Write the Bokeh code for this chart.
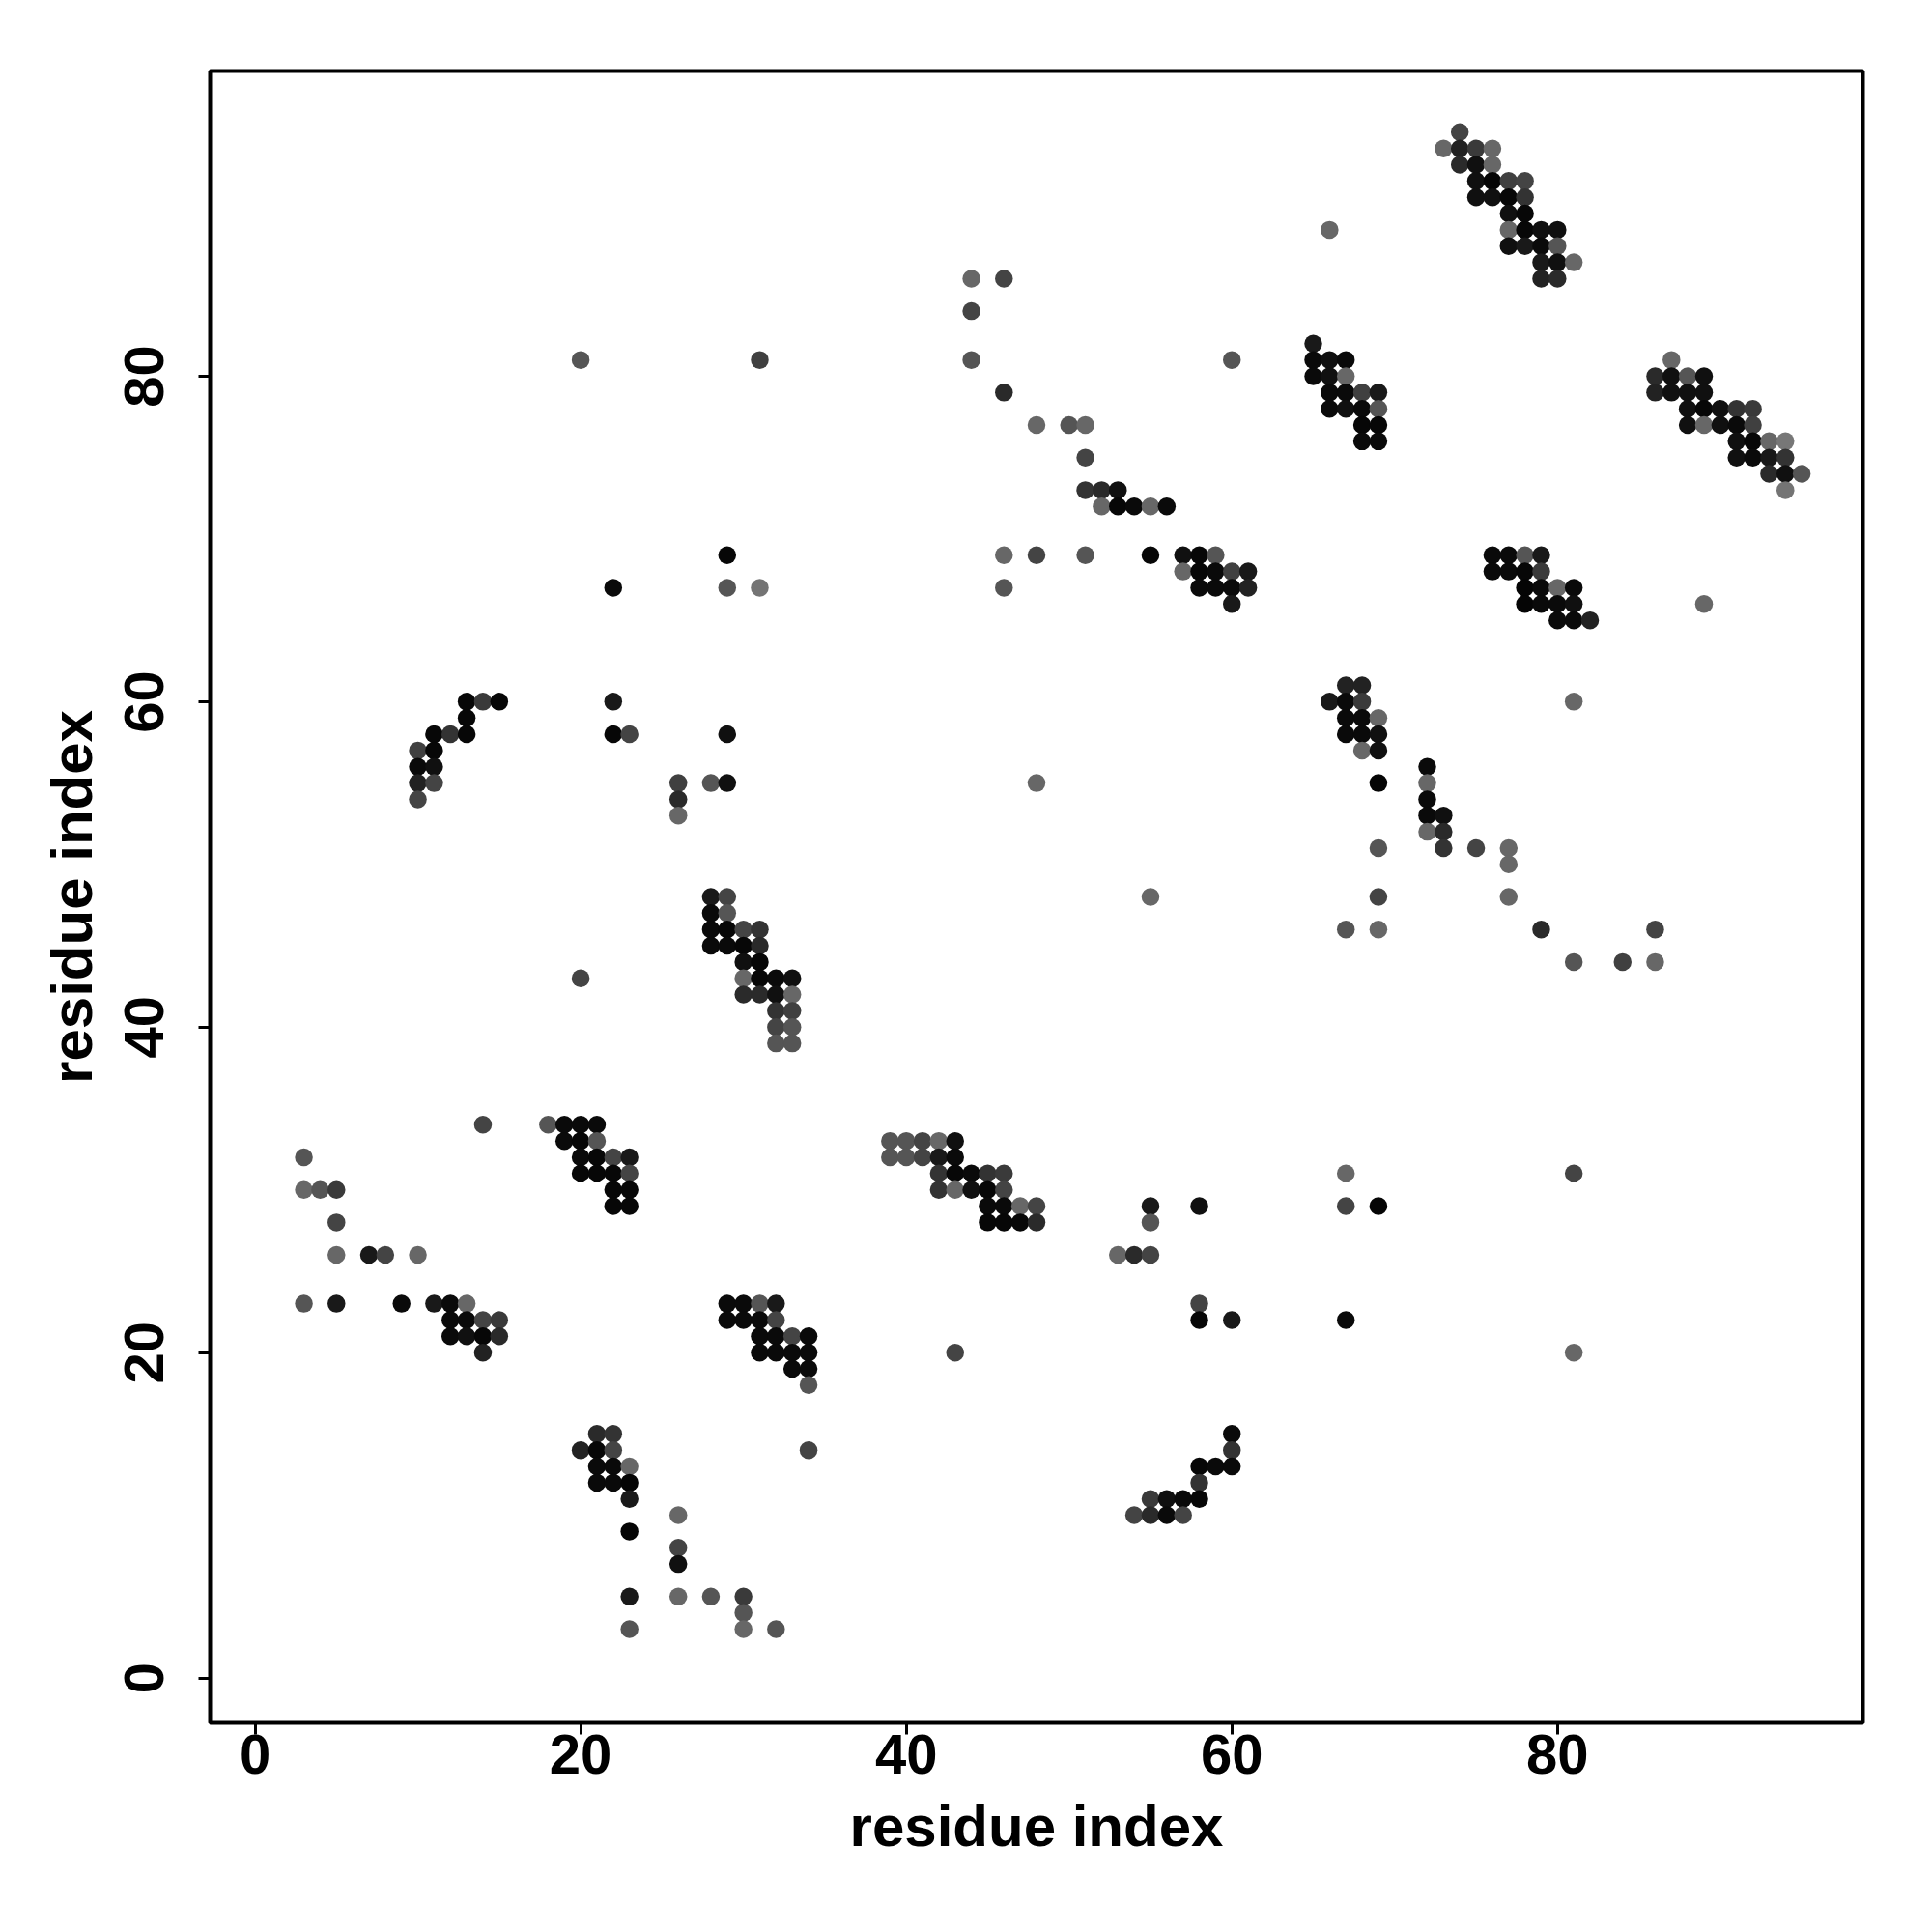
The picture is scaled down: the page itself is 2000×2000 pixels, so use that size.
from bokeh.plotting import figure
from bokeh.models import Range1d, FixedTicker, LinearColorMapper, ColumnDataSource
from bokeh.embed import file_html
from bokeh.resources import INLINE

# residue i (x), residue j (y), contact score (shade)
res_i = [
    74, 73, 74, 75, 76, 74, 75, 76, 75, 76, 77, 78, 75, 76, 77, 78, 77, 78,
    77, 78, 79, 80, 77, 78, 79, 80, 79, 80, 81, 79, 80, 66,
    65, 65, 66, 67, 65, 66, 67, 66, 67, 68, 69, 66, 67, 68, 69, 68, 69, 68, 69,
    87, 86, 87, 88, 89, 86, 87, 88, 89, 88, 89, 90, 91, 92, 88, 89, 90, 91, 92,
    91, 92, 93, 94, 91, 92, 93, 94, 93, 94, 95, 94,
    76, 77, 78, 79, 76, 77, 78, 79, 78, 79, 80, 81, 78, 79, 80, 81, 80, 81, 82, 89,
    67, 68, 66, 67, 68, 67, 68, 69, 67, 68, 69, 68, 69, 69, 81,
    72, 72, 72, 72, 73, 72, 73, 69, 73, 75, 77, 77, 69, 77,
    67, 69, 79, 86, 81, 84, 86, 67, 81, 67, 69, 67, 81,
    20, 31, 60, 44, 46, 44, 44, 46, 48, 50, 51, 51, 51, 52, 53,
    52, 53, 54, 55, 56, 46, 48, 51, 55, 57, 58, 59, 57, 58, 59, 60, 61,
    46, 58, 59, 60, 61, 60, 48, 55,
    29, 22, 29, 31, 13, 14, 15, 13, 11, 12, 13, 10, 11, 10, 11, 10, 11, 10,
    22, 22, 23, 29, 26, 28, 29, 26, 26,
    28, 29, 28, 29, 28, 29, 30, 31, 28, 29, 30, 31, 30, 31, 30, 31, 32, 33,
    30, 31, 32, 33, 32, 33, 32, 33, 32, 33, 20,
    39, 40, 41, 42, 43, 39, 40, 41, 42, 43, 42, 43, 44, 45, 46, 42, 43, 44, 45, 46,
    45, 46, 47, 48, 45, 46, 47, 48, 55, 58, 55, 53, 54, 55, 58, 58, 60, 43,
    14, 18, 19, 20, 21, 19, 20, 21, 20, 21, 22, 23, 20, 21, 22, 23, 22, 23, 22, 23,
    3, 3, 4, 5, 5, 5, 7, 8, 10, 3, 5, 9, 11, 12, 13, 12, 13, 14, 15,
    12, 13, 14, 15, 14,
    29, 30, 31, 32, 29, 30, 31, 32, 31, 32, 33, 34, 31, 32, 33, 34, 33, 34, 34, 34,
    21, 22, 20, 21, 22, 21, 22, 23, 21, 22, 23, 23, 23, 26, 26, 26,
    23, 26, 28, 30, 30, 23, 30, 32,
    60, 60, 58, 59, 60, 58, 55, 56, 57, 58, 54, 55, 56, 57,
]
res_j = [
    95, 94, 94, 94, 94, 93, 93, 93, 92, 92, 92, 92, 91, 91, 91, 91, 90, 90,
    89, 89, 89, 89, 88, 88, 88, 88, 87, 87, 87, 86, 86, 89,
    82, 81, 81, 81, 80, 80, 80, 79, 79, 79, 79, 78, 78, 78, 78, 77, 77, 76, 76,
    81, 80, 80, 80, 80, 79, 79, 79, 79, 78, 78, 78, 78, 78, 77, 77, 77, 77, 77,
    76, 76, 76, 76, 75, 75, 75, 75, 74, 74, 74, 73,
    69, 69, 69, 69, 68, 68, 68, 68, 67, 67, 67, 67, 66, 66, 66, 66, 65, 65, 65, 66,
    61, 61, 60, 60, 60, 59, 59, 59, 58, 58, 58, 57, 57, 55, 60,
    56, 55, 54, 53, 53, 52, 52, 51, 51, 51, 51, 50, 48, 48,
    46, 46, 46, 46, 44, 44, 44, 31, 31, 29, 29, 22, 20,
    81, 81, 81, 86, 86, 84, 81, 79, 77, 77, 77, 75, 73, 73, 73,
    72, 72, 72, 72, 72, 69, 69, 69, 69, 69, 69, 69, 68, 68, 68, 68, 68,
    67, 67, 67, 67, 67, 66, 55, 48,
    69, 67, 67, 67, 60, 60, 60, 59, 58, 58, 58, 57, 57, 56, 56, 55, 55, 54,
    60, 58, 58, 58, 55, 55, 55, 54, 53,
    48, 48, 47, 47, 46, 46, 46, 46, 45, 45, 45, 45, 44, 44, 43, 43, 43, 43,
    42, 42, 42, 42, 41, 41, 40, 40, 39, 39, 43,
    33, 33, 33, 33, 33, 32, 32, 32, 32, 32, 31, 31, 31, 31, 31, 30, 30, 30, 30, 30,
    29, 29, 29, 29, 28, 28, 28, 28, 29, 29, 28, 26, 26, 26, 23, 22, 22, 20,
    34, 34, 34, 34, 34, 33, 33, 33, 32, 32, 32, 32, 31, 31, 31, 31, 30, 30, 29, 29,
    32, 30, 30, 30, 28, 26, 26, 26, 26, 23, 23, 23, 23, 23, 23, 22, 22, 22, 22,
    21, 21, 21, 21, 20,
    23, 23, 23, 23, 22, 22, 22, 22, 21, 21, 21, 21, 20, 20, 20, 20, 19, 19, 18, 14,
    15, 15, 14, 14, 14, 13, 13, 13, 12, 12, 12, 11, 9, 10, 8, 7,
    5, 5, 5, 5, 4, 3, 3, 3,
    15, 14, 13, 13, 13, 12, 11, 11, 11, 11, 10, 10, 10, 10,
]
score = [
    .47, .20, .73, .55, .20, .67, .87, .20, .87, .96, .50, .47, .87, .87, .94, .60, .87, .94,
    .20, .94, .87, .87, .87, .80, .92, .34, .80, .87, .20, .73, .67, .20,
    .80, .92, .87, .92, .92, .87, .20, .92, .92, .50, .80, .92, .87, .92, .34, .94, .94, .92, .92,
    .20, .67, .87, .34, .87, .73, .87, .87, .87, .87, .94, .87, .60, .55, .87, .20, .87, .92, .50,
    .87, .94, .20, .07, .87, .92, .80, .60, .67, .87, .34, .10,
    .92, .92, .34, .80, .92, .92, .94, .55, .96, .92, .20, .92, .96, .92, .92, .87, .92, .92, .73, .20,
    .73, .73, .80, .92, .55, .92, .92, .20, .92, .92, .87, .20, .87, .96, .20,
    .92, .20, .92, .92, .87, .20, .67, .34, .60, .47, .20, .20, .47, .20,
    .34, .20, .67, .47, .34, .50, .20, .20, .47, .47, .96, .92, .20,
    .34, .50, .34, .20, .47, .47, .34, .67, .20, .34, .20, .47, .60, .67, .87,
    .20, .94, .92, .20, .92, .20, .47, .34, .94, .87, .94, .34, .20, .94, .92, .50, .80,
    .34, .92, .92, .92, .73, .80, .20, .20,
    .94, .92, .34, .10, .94, .55, .94, .94, .94, .60, .94, .50, .94, .92, .87, .73, .47, .47,
    .80, .94, .47, .87, .50, .34, .87, .67, .20,
    .80, .47, .92, .34, .92, .94, .47, .60, .92, .92, .94, .67, .87, .94, .20, .94, .92, .87,
    .67, .67, .87, .20, .60, .50, .47, .34, .34, .34, .47,
    .34, .34, .47, .20, .87, .34, .34, .47, .80, .92, .60, .94, .92, .60, .55, .60, .20, .87, .94, .47,
    .92, .92, .20, .47, .94, .94, .94, .67, .80, .87, .34, .20, .67, .47, .47, .94, .80, .47,
    .47, .34, .92, .92, .92, .92, .94, .34, .92, .94, .47, .80, .94, .94, .94, .47, .94, .94, .94, .94,
    .34, .20, .34, .55, .47, .20, .80, .47, .20, .34, .80, .92, .80, .92, .20, .92, .92, .47, .55,
    .92, .87, .94, .67, .73,
    .92, .92, .34, .80, .92, .92, .92, .47, .92, .92, .47, .92, .92, .92, .92, .92, .92, .92, .34, .47,
    .67, .60, .73, .94, .47, .92, .92, .20, .92, .92, .96, .80, .96, .20, .47, .87,
    .80, .20, .34, .55, .34, .34, .20, .34,
    .92, .60, .94, .92, .92, .60, .55, .87, .92, .94, .47, .67, .92, .47,
]
assert len(res_i) == len(res_j) == len(score)

tick_values = [0, 20, 40, 60, 80]
axis_title = "residue index"

palette = ["#%02x%02x%02x" % (b, b, b) for b in range(128, -1, -1)]
mapper = LinearColorMapper(palette=palette, low=0, high=1)

src = ColumnDataSource(dict(i=res_i, j=res_j, s=score))

p = figure(frame_width=1711, frame_height=1710,
           min_border_left=217, min_border_right=64,
           min_border_top=73, min_border_bottom=209,
           x_range=Range1d(-2.76, 98.76), y_range=Range1d(-2.76, 98.76),
           output_backend="svg", toolbar_location=None)

p.scatter("i", "j", source=src, size=18.5, marker="circle",
          fill_color={"field": "s", "transform": mapper}, line_color=None)

p.background_fill_color = "white"
p.border_fill_color = "white"
p.outline_line_color = "black"
p.outline_line_width = 4
p.xgrid.visible = False
p.ygrid.visible = False

for ax in (p.xaxis[0], p.yaxis[0]):
    ax.ticker = FixedTicker(ticks=tick_values, minor_ticks=[])
    ax.axis_line_color = None
    ax.major_tick_line_color = "black"
    ax.major_tick_line_width = 3
    ax.major_tick_out = 12
    ax.major_tick_in = 0
    ax.minor_tick_line_color = None
    ax.major_label_text_font = "Liberation Sans"
    ax.major_label_text_font_style = "bold"
    ax.major_label_text_font_size = "58px"
    ax.major_label_text_color = "black"
    ax.axis_label = axis_title
    ax.axis_label_text_font = "Liberation Sans"
    ax.axis_label_text_font_style = "bold"
    ax.axis_label_text_font_size = "60px"
    ax.axis_label_text_color = "black"

p.xaxis.major_label_standoff = 0
p.xaxis.axis_label_standoff = 18
p.yaxis.major_label_orientation = "vertical"
p.yaxis.major_label_standoff = 36
p.yaxis.axis_label_standoff = 19

open("out.html", "w").write(file_html(p, INLINE))
